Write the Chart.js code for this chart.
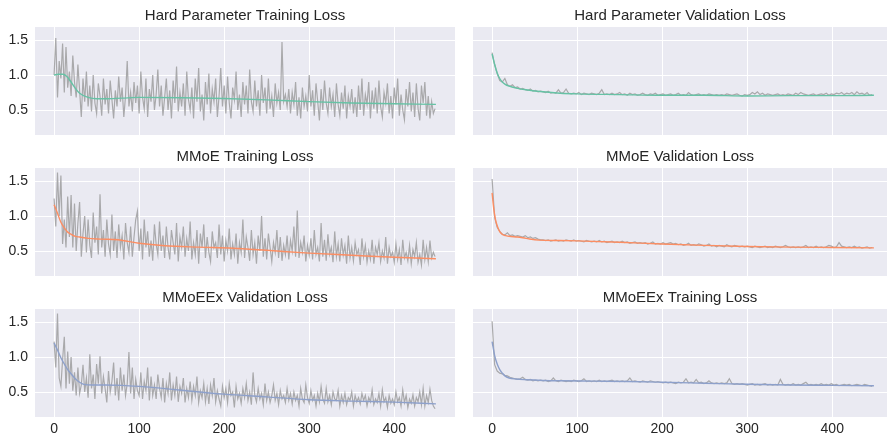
<!DOCTYPE html>
<html>
<head>
<meta charset="utf-8">
<script src="https://cdn.jsdelivr.net/npm/chart.js@4.4.1/dist/chart.umd.min.js"></script>
<style>
body { margin: 0; background: #fff; width: 887px; height: 435px; overflow: hidden; position: relative; }
canvas { position: absolute; }
</style>
</head>
<body>
<canvas id="c0" width="455" height="135" style="left:0;top:0"></canvas>
<canvas id="c1" width="414" height="135" style="left:473px;top:0"></canvas>
<canvas id="c2" width="455" height="135" style="left:0;top:141px"></canvas>
<canvas id="c3" width="414" height="135" style="left:473px;top:141px"></canvas>
<canvas id="c4" width="455" height="153" style="left:0;top:282px"></canvas>
<canvas id="c5" width="414" height="153" style="left:473px;top:282px"></canvas>
<script>
// raw training-set losses are sampled every 2 epochs (0..448),
// raw validation-set losses every 3 epochs (0..447)
var NOISY_STEP = 2;
var CALM_STEP = 3;

var xTicks = [0, 100, 200, 300, 400];
var yTicks = [0.5, 1.0, 1.5];

var titles = [
    'Hard Parameter Training Loss', 'Hard Parameter Validation Loss',
    'MMoE Training Loss', 'MMoE Validation Loss',
    'MMoEEx Validation Loss', 'MMoEEx Training Loss'
];

var hardTrainRaw = [
    1.00, 1.53, 0.68, 1.20, 0.95, 1.45, 0.75, 1.40, 0.82, 1.05,
    0.70, 1.28, 0.90, 0.68, 1.15, 0.78, 0.40, 0.95, 0.62, 1.05,
    0.55, 0.85, 0.48, 1.00, 0.60, 0.45, 0.88, 0.70, 0.42, 0.95,
    0.58, 0.80, 0.45, 0.92, 0.65, 0.38, 0.78, 0.55, 0.98, 0.62,
    0.82, 0.40, 0.70, 1.20, 0.55, 0.75, 0.48, 0.90, 0.60, 0.85,
    0.45, 1.05, 0.68, 0.52, 0.95, 0.40, 0.80, 0.62, 1.00, 0.50,
    0.72, 1.08, 0.55, 0.85, 0.42, 0.68, 0.95, 0.50, 0.78, 0.38,
    0.92, 0.60, 1.12, 0.48, 0.75, 0.55, 0.88, 0.42, 1.05, 0.65,
    0.50, 0.82, 0.38, 0.95, 0.62, 1.10, 0.48, 0.72, 0.35, 0.90,
    0.58, 1.02, 0.45, 0.80, 0.62, 0.95, 0.40, 0.70, 1.10, 0.55,
    0.85, 0.45, 0.98, 0.60, 0.38, 0.82, 0.65, 1.05, 0.50, 0.72,
    0.40, 0.90, 0.58, 0.85, 0.45, 1.08, 0.62, 0.48, 0.92, 0.55,
    0.78, 0.42, 1.00, 0.60, 0.82, 0.45, 0.95, 0.52, 0.70, 0.40,
    0.88, 0.60, 0.75, 0.50, 1.47, 0.62, 0.72, 0.55, 0.80, 0.45,
    0.75, 0.58, 0.90, 0.42, 0.68, 0.38, 0.82, 0.55, 0.70, 0.48,
    1.00, 0.55, 0.78, 0.42, 0.88, 0.62, 0.35, 0.80, 0.50, 0.92,
    0.60, 0.45, 0.82, 0.55, 0.72, 0.40, 0.88, 0.58, 0.42, 0.75,
    0.52, 0.85, 0.38, 0.70, 0.55, 0.80, 0.45, 0.68, 0.40, 0.85,
    0.50, 0.95, 0.42, 0.72, 0.58, 0.90, 0.38, 0.78, 0.52, 0.82,
    0.45, 0.92, 0.55, 0.40, 0.75, 0.60, 0.88, 0.45, 0.70, 0.38,
    0.82, 0.58, 0.95, 0.42, 0.72, 0.50, 0.36, 0.80, 0.55, 0.90,
    0.48, 0.75, 0.40, 0.88, 0.52, 0.35, 0.85, 0.60, 0.90, 0.42,
    0.70, 0.38, 0.62, 0.45, 0.52
];
var hardTrainSmoothX = [0, 5, 10, 15, 20, 25, 30, 40, 50, 60, 80, 100, 150, 200, 250, 300, 350, 400, 449];
var hardTrainSmoothY = [1.00, 1.01, 1.01, 0.98, 0.90, 0.81, 0.74, 0.68, 0.66, 0.66, 0.67, 0.68, 0.675, 0.665, 0.645, 0.62, 0.60, 0.59, 0.58];

var hardValRaw = [
    1.32, 1.15, 1.02, 0.92, 0.90, 0.95, 0.86, 0.84, 0.86, 0.82,
    0.83, 0.80, 0.81, 0.79, 0.78, 0.80, 0.77, 0.78, 0.76, 0.77,
    0.76, 0.75, 0.77, 0.74, 0.75, 0.74, 0.79, 0.74, 0.75, 0.80,
    0.74, 0.73, 0.74, 0.73, 0.75, 0.72, 0.74, 0.73, 0.72, 0.74,
    0.73, 0.72, 0.74, 0.79, 0.72, 0.73, 0.72, 0.74, 0.72, 0.73,
    0.75, 0.72, 0.73, 0.71, 0.74, 0.72, 0.73, 0.71, 0.72, 0.74,
    0.72, 0.71, 0.73, 0.72, 0.74, 0.71, 0.72, 0.73, 0.71, 0.72,
    0.73, 0.71, 0.72, 0.74, 0.71, 0.72, 0.71, 0.75, 0.72, 0.71,
    0.72, 0.73, 0.71, 0.72, 0.71, 0.73, 0.72, 0.71, 0.72, 0.71,
    0.72, 0.71, 0.73, 0.72, 0.71, 0.72, 0.73, 0.71, 0.70, 0.72,
    0.71, 0.72, 0.75, 0.73, 0.76, 0.72, 0.74, 0.71, 0.73, 0.72,
    0.71, 0.72, 0.73, 0.71, 0.72, 0.71, 0.73, 0.72, 0.71, 0.74,
    0.72, 0.75, 0.73, 0.72, 0.71, 0.72, 0.73, 0.71, 0.72, 0.73,
    0.72, 0.74, 0.71, 0.73, 0.72, 0.74, 0.73, 0.75, 0.72, 0.74,
    0.73, 0.75, 0.72, 0.76, 0.73, 0.74, 0.72, 0.75, 0.71, 0.72
];
var hardValSmoothX = [0, 3, 6, 9, 12, 15, 20, 30, 40, 60, 80, 100, 150, 200, 250, 300, 350, 400, 449];
var hardValSmoothY = [1.30, 1.15, 1.03, 0.95, 0.90, 0.87, 0.84, 0.81, 0.79, 0.76, 0.74, 0.73, 0.72, 0.71, 0.71, 0.70, 0.705, 0.705, 0.71];

var mmoeTrainRaw = [
    1.25, 0.85, 1.62, 1.00, 1.58, 0.60, 0.95, 0.55, 1.28, 0.70,
    1.30, 0.55, 1.18, 0.50, 0.90, 1.20, 0.42, 0.75, 1.00, 0.48,
    0.95, 0.58, 0.40, 1.05, 0.62, 0.85, 0.45, 1.31, 0.55, 0.80,
    0.42, 0.95, 0.60, 0.45, 1.02, 0.50, 0.78, 0.40, 0.88, 0.55,
    0.72, 0.38, 0.90, 0.62, 0.48, 0.85, 0.42, 0.70, 0.95, 1.07,
    0.50, 0.82, 0.38, 0.95, 0.55, 0.78, 0.42, 0.65, 0.36, 0.88,
    0.60, 0.45, 0.92, 0.50, 0.72, 0.40, 0.85, 0.55, 0.38, 0.80,
    0.62, 0.45, 0.90, 0.35, 0.70, 0.55, 0.85, 0.42, 0.68, 0.50,
    0.92, 0.38, 0.62, 0.45, 0.80, 0.32, 0.75, 0.55, 0.88, 0.40,
    0.70, 0.48, 0.35, 0.78, 0.55, 0.62, 0.40, 0.88, 0.45, 0.72,
    0.35, 0.65, 0.50, 0.82, 0.38, 0.60, 0.45, 0.75, 0.32, 0.62,
    0.48, 0.95, 0.40, 0.70, 0.55, 0.36, 0.80, 0.45, 0.62, 0.32,
    0.72, 0.50, 1.00, 0.42, 0.68, 0.38, 0.75, 0.55, 0.35, 0.62,
    0.48, 0.80, 0.40, 0.70, 0.36, 0.58, 0.45, 0.72, 0.38, 0.65,
    0.50, 0.85, 0.42, 1.08, 0.40, 0.62, 0.48, 0.72, 0.35, 0.58,
    0.44, 0.68, 0.38, 0.80, 0.45, 0.55, 0.35, 0.90, 0.42, 0.66,
    0.36, 0.74, 0.45, 0.55, 0.34, 0.78, 0.42, 0.60, 0.35, 0.68,
    0.44, 0.58, 0.32, 0.72, 0.40, 0.55, 0.36, 0.62, 0.45, 0.52,
    0.30, 0.68, 0.42, 0.58, 0.34, 0.50, 0.38, 0.66, 0.32, 0.55,
    0.45, 0.62, 0.35, 0.50, 0.40, 0.70, 0.32, 0.55, 0.42, 0.48,
    0.34, 0.60, 0.38, 0.52, 0.30, 0.66, 0.40, 0.48, 0.36, 0.58,
    0.32, 0.52, 0.42, 0.62, 0.34, 0.45, 0.30, 0.66, 0.38, 0.55,
    0.35, 0.65, 0.40, 0.48, 0.42
];
var mmoeTrainSmoothX = [0, 4, 8, 12, 16, 20, 25, 30, 40, 55, 75, 100, 130, 170, 210, 250, 300, 350, 400, 449];
var mmoeTrainSmoothY = [1.16, 1.04, 0.91, 0.83, 0.77, 0.74, 0.71, 0.70, 0.68, 0.67, 0.66, 0.61, 0.575, 0.555, 0.54, 0.51, 0.47, 0.44, 0.41, 0.39];

var mmoeValRaw = [
    1.53, 0.98, 0.84, 0.78, 0.74, 0.73, 0.76, 0.72, 0.73, 0.71,
    0.72, 0.71, 0.70, 0.72, 0.69, 0.70, 0.68, 0.69, 0.67, 0.66,
    0.66, 0.65, 0.66, 0.64, 0.65, 0.66, 0.64, 0.65, 0.64, 0.66,
    0.65, 0.64, 0.66, 0.64, 0.65, 0.64, 0.63, 0.65, 0.64, 0.63,
    0.64, 0.63, 0.65, 0.63, 0.64, 0.62, 0.63, 0.64, 0.62, 0.63,
    0.62, 0.64, 0.62, 0.63, 0.61, 0.62, 0.63, 0.61, 0.62, 0.61,
    0.62, 0.60, 0.61, 0.63, 0.60, 0.61, 0.60, 0.62, 0.60, 0.61,
    0.62, 0.60, 0.61, 0.59, 0.60, 0.58, 0.59, 0.61, 0.58, 0.59,
    0.58, 0.60, 0.59, 0.57, 0.58, 0.60, 0.57, 0.58, 0.56, 0.58,
    0.57, 0.56, 0.59, 0.57, 0.56, 0.58, 0.57, 0.56, 0.57, 0.56,
    0.57, 0.56, 0.55, 0.57, 0.56, 0.55, 0.56, 0.57, 0.55, 0.56,
    0.55, 0.57, 0.56, 0.55, 0.56, 0.58, 0.56, 0.55, 0.56, 0.55,
    0.56, 0.55, 0.56, 0.58, 0.55, 0.56, 0.55, 0.57, 0.55, 0.56,
    0.55, 0.56, 0.58, 0.57, 0.55, 0.56, 0.62, 0.57, 0.56, 0.55,
    0.56, 0.55, 0.57, 0.55, 0.56, 0.54, 0.55, 0.56, 0.54, 0.55
];
var mmoeValSmoothX = [0, 2, 4, 6, 8, 10, 13, 16, 20, 30, 40, 55, 80, 100, 150, 200, 250, 300, 350, 400, 449];
var mmoeValSmoothY = [1.33, 1.10, 0.95, 0.86, 0.80, 0.76, 0.73, 0.72, 0.71, 0.70, 0.68, 0.655, 0.65, 0.645, 0.625, 0.60, 0.58, 0.565, 0.555, 0.55, 0.545];

var mmoeexValRaw = [
    1.22, 0.85, 1.62, 0.70, 0.58, 0.96, 1.29, 0.55, 1.08, 0.62,
    1.00, 0.52, 0.78, 0.45, 0.85, 0.48, 0.60, 0.89, 0.50, 0.70,
    0.42, 1.04, 0.55, 0.75, 0.40, 0.90, 0.62, 1.01, 0.48, 0.72,
    0.55, 0.35, 0.80, 0.50, 0.65, 0.92, 0.45, 0.70, 0.38, 0.85,
    0.52, 0.75, 0.45, 0.62, 1.07, 0.48, 0.85, 0.40, 0.68, 0.52,
    0.45, 0.78, 0.40, 0.65, 0.52, 0.85, 0.38, 0.72, 0.45, 0.60,
    0.40, 0.75, 0.55, 0.42, 0.70, 0.35, 0.62, 0.48, 0.78, 0.38,
    0.60, 0.45, 0.72, 0.36, 0.58, 0.48, 0.70, 0.35, 0.55, 0.42,
    0.65, 0.38, 0.58, 0.45, 0.72, 0.35, 0.52, 0.42, 0.62, 0.36,
    0.55, 0.33, 0.60, 0.45, 0.70, 0.36, 0.52, 0.40, 0.30, 0.58,
    0.42, 0.55, 0.35, 0.62, 0.45, 0.50, 0.28, 0.58, 0.40, 0.48,
    0.34, 0.55, 0.42, 0.62, 0.38, 0.50, 0.32, 0.78, 0.45, 0.36,
    0.55, 0.40, 0.48, 0.32, 0.62, 0.38, 0.50, 0.35, 0.45, 0.60,
    0.38, 0.48, 0.32, 0.52, 0.40, 0.45, 0.35, 0.55, 0.38, 0.48,
    0.33, 0.50, 0.38, 0.45, 0.30, 0.55, 0.40, 0.35, 0.60, 0.42,
    0.34, 0.52, 0.38, 0.45, 0.30, 0.48, 0.36, 0.58, 0.40, 0.34,
    0.55, 0.36, 0.45, 0.32, 0.50, 0.40, 0.38, 0.52, 0.30, 0.45,
    0.35, 0.48, 0.32, 0.42, 0.38, 0.50, 0.30, 0.45, 0.36, 0.42,
    0.33, 0.48, 0.38, 0.45, 0.30, 0.42, 0.36, 0.53, 0.32, 0.40,
    0.35, 0.48, 0.30, 0.53, 0.36, 0.42, 0.28, 0.45, 0.34, 0.40,
    0.32, 0.50, 0.36, 0.42, 0.30, 0.53, 0.35, 0.45, 0.28, 0.40,
    0.34, 0.46, 0.30, 0.42, 0.36, 0.50, 0.32, 0.55, 0.30, 0.45,
    0.35, 0.54, 0.38, 0.30, 0.26
];
var mmoeexValSmoothX = [0, 4, 8, 12, 16, 20, 25, 30, 35, 45, 60, 80, 100, 125, 150, 200, 250, 300, 350, 400, 449];
var mmoeexValSmoothY = [1.20, 1.10, 0.99, 0.90, 0.82, 0.76, 0.69, 0.64, 0.61, 0.60, 0.60, 0.595, 0.58, 0.555, 0.525, 0.47, 0.43, 0.39, 0.37, 0.355, 0.33];

var mmoeexTrainRaw = [
    1.51, 0.89, 0.80, 0.77, 0.76, 0.74, 0.73, 0.71, 0.70, 0.69,
    0.68, 0.69, 0.71, 0.68, 0.67, 0.68, 0.66, 0.67, 0.66, 0.67,
    0.66, 0.67, 0.65, 0.66, 0.70, 0.66, 0.65, 0.67, 0.66, 0.65,
    0.66, 0.65, 0.67, 0.66, 0.65, 0.66, 0.69, 0.65, 0.66, 0.65,
    0.66, 0.65, 0.67, 0.65, 0.66, 0.65, 0.66, 0.67, 0.65, 0.66,
    0.65, 0.66, 0.65, 0.66, 0.70, 0.65, 0.66, 0.65, 0.64, 0.66,
    0.65, 0.64, 0.66, 0.65, 0.64, 0.65, 0.64, 0.63, 0.64, 0.63,
    0.64, 0.63, 0.62, 0.64, 0.63, 0.64, 0.69, 0.63, 0.64, 0.63,
    0.68, 0.63, 0.64, 0.62, 0.63, 0.66, 0.63, 0.62, 0.63, 0.62,
    0.63, 0.62, 0.63, 0.69, 0.62, 0.61, 0.62, 0.61, 0.62, 0.61,
    0.60, 0.61, 0.62, 0.60, 0.61, 0.60, 0.61, 0.62, 0.60, 0.61,
    0.60, 0.61, 0.60, 0.68, 0.61, 0.60, 0.61, 0.60, 0.62, 0.60,
    0.61, 0.60, 0.62, 0.64, 0.60, 0.61, 0.60, 0.61, 0.60, 0.62,
    0.60, 0.61, 0.60, 0.62, 0.60, 0.61, 0.59, 0.60, 0.61, 0.60,
    0.61, 0.59, 0.60, 0.61, 0.60, 0.59, 0.61, 0.60, 0.59, 0.58
];
var mmoeexTrainSmoothX = [0, 3, 6, 9, 12, 15, 20, 28, 40, 60, 80, 120, 160, 200, 250, 300, 350, 400, 449];
var mmoeexTrainSmoothY = [1.22, 1.02, 0.90, 0.82, 0.77, 0.73, 0.70, 0.685, 0.675, 0.665, 0.66, 0.655, 0.65, 0.64, 0.625, 0.61, 0.60, 0.595, 0.59];

var GRAY = '#a9a9ab';
var GREEN = '#66c2a5';
var ORANGE = '#fc8d62';
var BLUE = '#8da0cb';
var TEXT = '#262626';
var FONT = '"Liberation Sans", Arial, sans-serif';

Chart.defaults.font.family = FONT;
Chart.defaults.color = TEXT;

var plotBg = {
    id: 'plotBg',
    beforeDraw: function (chart) {
        var a = chart.chartArea, ctx = chart.ctx;
        ctx.save();
        ctx.fillStyle = '#eaeaf2';
        ctx.fillRect(a.left, a.top, a.right - a.left, a.bottom - a.top);
        ctx.restore();
    }
};

function toPoints(xs, ys) {
    return ys.map(function (y, i) { return {x: xs[i], y: y}; });
}
function rawPoints(ys, step) {
    return ys.map(function (y, i) { return {x: i * step, y: y}; });
}

// tick labels must not push the plot area around
function noLabelPadding(axis) {
    axis.paddingTop = 0;
    axis.paddingBottom = 0;
    axis.paddingLeft = 0;
    axis.paddingRight = 0;
}

function makePanel(id, title, raw, step, sx, sy, color, leftCol, bottomRow) {
    new Chart(document.getElementById(id), {
        type: 'line',
        data: {
            datasets: [
                {data: toPoints(sx, sy), borderColor: color, borderWidth: 1.4, pointRadius: 0, cubicInterpolationMode: 'monotone'},
                {data: rawPoints(raw, step), borderColor: GRAY, borderWidth: 1.2, pointRadius: 0, tension: 0}
            ]
        },
        options: {
            responsive: false,
            animation: false,
            events: [],
            layout: {padding: 0},
            plugins: {
                legend: {display: false},
                tooltip: {enabled: false},
                title: {
                    display: true, text: title, fullSize: false, color: TEXT,
                    font: {size: 15, weight: 'normal', family: FONT},
                    padding: {top: 7, bottom: 2}
                }
            },
            scales: {
                x: {
                    type: 'linear',
                    min: -22.45,
                    max: leftCol ? 471.45 : 464.4,
                    border: {display: false},
                    grid: {color: '#ffffff', lineWidth: 1, drawTicks: false},
                    afterBuildTicks: function (axis) { axis.ticks = xTicks.map(function (v) { return {value: v}; }); },
                    afterFit: function (axis) { axis.height = bottomRow ? 18 : 0; noLabelPadding(axis); },
                    ticks: {display: bottomRow, padding: 4, color: TEXT, font: {size: 14}, autoSkip: false, maxRotation: 0,
                        callback: function (v) { return String(v); }}
                },
                y: {
                    type: 'linear',
                    min: 0.143,
                    max: 1.686,
                    border: {display: false},
                    grid: {color: '#ffffff', lineWidth: 1, drawTicks: false},
                    afterBuildTicks: function (axis) { axis.ticks = yTicks.map(function (v) { return {value: v}; }); },
                    afterFit: function (axis) { axis.width = leftCol ? 35 : 0; noLabelPadding(axis); },
                    ticks: {display: leftCol, padding: 7, color: TEXT, font: {size: 14},
                        callback: function (v) { return v.toFixed(1); }}
                }
            }
        },
        plugins: [plotBg]
    });
}

makePanel('c0', titles[0], hardTrainRaw, NOISY_STEP, hardTrainSmoothX, hardTrainSmoothY, GREEN, true, false);
makePanel('c1', titles[1], hardValRaw, CALM_STEP, hardValSmoothX, hardValSmoothY, GREEN, false, false);
makePanel('c2', titles[2], mmoeTrainRaw, NOISY_STEP, mmoeTrainSmoothX, mmoeTrainSmoothY, ORANGE, true, false);
makePanel('c3', titles[3], mmoeValRaw, CALM_STEP, mmoeValSmoothX, mmoeValSmoothY, ORANGE, false, false);
makePanel('c4', titles[4], mmoeexValRaw, NOISY_STEP, mmoeexValSmoothX, mmoeexValSmoothY, BLUE, true, true);
makePanel('c5', titles[5], mmoeexTrainRaw, CALM_STEP, mmoeexTrainSmoothX, mmoeexTrainSmoothY, BLUE, false, true);
</script>
</body>
</html>
